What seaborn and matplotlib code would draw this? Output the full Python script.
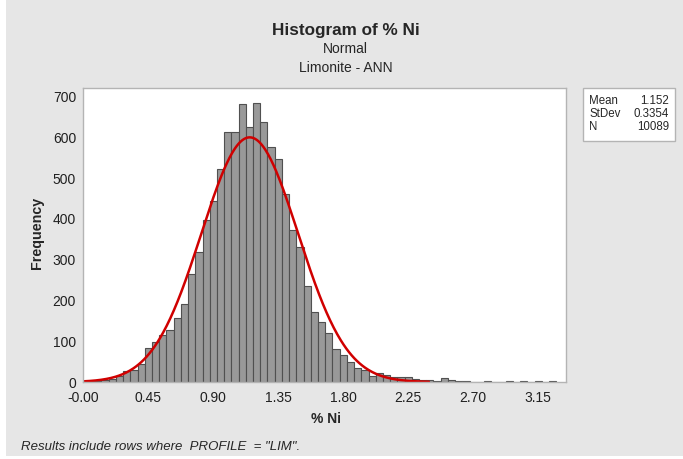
import numpy as np
import pandas as pd
import seaborn as sns
import matplotlib.pyplot as plt
from matplotlib.patches import Rectangle

# bin midpoints (% Ni) and counts, bin width 0.05
bin_mid = [0.00, 0.05, 0.10, 0.15, 0.20, 0.25, 0.30, 0.35, 0.40, 0.45,
           0.50, 0.55, 0.60, 0.65, 0.70, 0.75, 0.80, 0.85, 0.90, 0.95,
           1.00, 1.05, 1.10, 1.15, 1.20, 1.25, 1.30, 1.35, 1.40, 1.45,
           1.50, 1.55, 1.60, 1.65, 1.70, 1.75, 1.80, 1.85, 1.90, 1.95,
           2.00, 2.05, 2.10, 2.15, 2.20, 2.25, 2.30, 2.35, 2.40, 2.45,
           2.50, 2.55, 2.60, 2.65, 2.70, 2.75, 2.80, 2.85, 2.90, 2.95,
           3.00, 3.05, 3.10, 3.15, 3.20, 3.25]
counts = [1, 2, 3, 4, 7, 14, 26, 30, 43, 84,
          97, 116, 127, 157, 192, 264, 318, 398, 444, 522,
          612, 614, 682, 626, 684, 637, 577, 548, 461, 373,
          331, 235, 172, 146, 119, 80, 66, 50, 34, 30,
          15, 23, 18, 12, 13, 12, 8, 4, 6, 2,
          10, 4, 2, 3, 1, 1, 3, 1, 0, 2,
          0, 2, 0, 2, 0, 2]

mean, stdev, n = 1.152, 0.3354, 10089
bin_w = 0.05

x_ticks = [0.0, 0.45, 0.90, 1.35, 1.80, 2.25, 2.70, 3.15]
x_tick_labels = ['-0.00', '0.45', '0.90', '1.35', '1.80', '2.25', '2.70', '3.15']
y_ticks = [0, 100, 200, 300, 400, 500, 600, 700]

df = pd.DataFrame({'ni': bin_mid, 'count': counts})
lo = bin_mid[0] - bin_w / 2
hi = bin_mid[-1] + bin_w / 2

sns.set_style('white')
plt.rcParams['font.family'] = ['Liberation Sans', 'DejaVu Sans']

fig = plt.figure(figsize=(6.83, 4.59), dpi=100)
fig.patch.set_facecolor('white')
# grey panel behind everything
fig.patches.append(Rectangle((6 / 683, 3 / 459), 1, 1, transform=fig.transFigure,
                             facecolor='#e6e6e6', edgecolor='none', zorder=-10))

ax = fig.add_axes([83 / 683, 1 - 382 / 459, (566 - 83) / 683, (382 - 88) / 459])
ax.set_facecolor('white')

sns.histplot(data=df, x='ni', weights='count', binwidth=bin_w, binrange=(lo, hi),
             color='#999999', edgecolor='#505050', linewidth=0.8, alpha=1, ax=ax)

# fitted normal curve
xs = np.linspace(mean - 3.7 * stdev, mean + 3.7 * stdev, 400)
ys = n * bin_w * np.exp(-0.5 * ((xs - mean) / stdev) ** 2) / (stdev * np.sqrt(2 * np.pi))
sns.lineplot(x=xs, y=ys, color='#d00000', linewidth=1.8, ax=ax)

ax.set_xlim(-0.003, 3.343)
ax.set_ylim(0, 721)
ax.set_xticks(x_ticks)
ax.set_xticklabels(x_tick_labels)
ax.set_yticks(y_ticks)
ax.tick_params(axis='both', direction='out', length=3, width=0.8, color='#a0a0a0',
               labelsize=10, labelcolor='#202020', pad=2)
ax.tick_params(axis='x', pad=3.5)
for s in ax.spines.values():
    s.set_color('#b4b4b4')
    s.set_linewidth(1)
ax.set_xlabel('')
ax.set_ylabel('')

fig.text(346 / 683, 1 - 30 / 459, 'Histogram of % Ni', ha='center', va='center',
         fontsize=12.3, fontweight='bold')
fig.text(345 / 683, 1 - 49 / 459, 'Normal', ha='center', va='center', fontsize=10)
fig.text(346 / 683, 1 - 68 / 459, 'Limonite - ANN', ha='center', va='center', fontsize=10)
fig.text(37 / 683, 1 - 233 / 459, 'Frequency', ha='center', va='center', rotation=90,
         fontsize=10.3, fontweight='bold')
fig.text(326 / 683, 1 - 419 / 459, '% Ni', ha='center', va='center',
         fontsize=10, fontweight='bold')
fig.text(21 / 683, 1 - 447 / 459, 'Results include rows where  PROFILE  = "LIM".',
         ha='left', va='center', fontsize=9.5, style='italic')

# stats box
fig.patches.append(Rectangle((583 / 683, 1 - 141 / 459), 92 / 683, 53 / 459,
                             transform=fig.transFigure, facecolor='white',
                             edgecolor='#b4b4b4', linewidth=1))
rows = [('Mean', '1.152'), ('StDev', '0.3354'), ('N', '10089')]
for i, (lab, val) in enumerate(rows):
    yy = 1 - (101 + i * 13) / 459
    fig.text(589 / 683, yy, lab, ha='left', va='center', fontsize=8.3)
    fig.text(669 / 683, yy, val, ha='right', va='center', fontsize=8.3)

fig.savefig('out.png', dpi=100)
